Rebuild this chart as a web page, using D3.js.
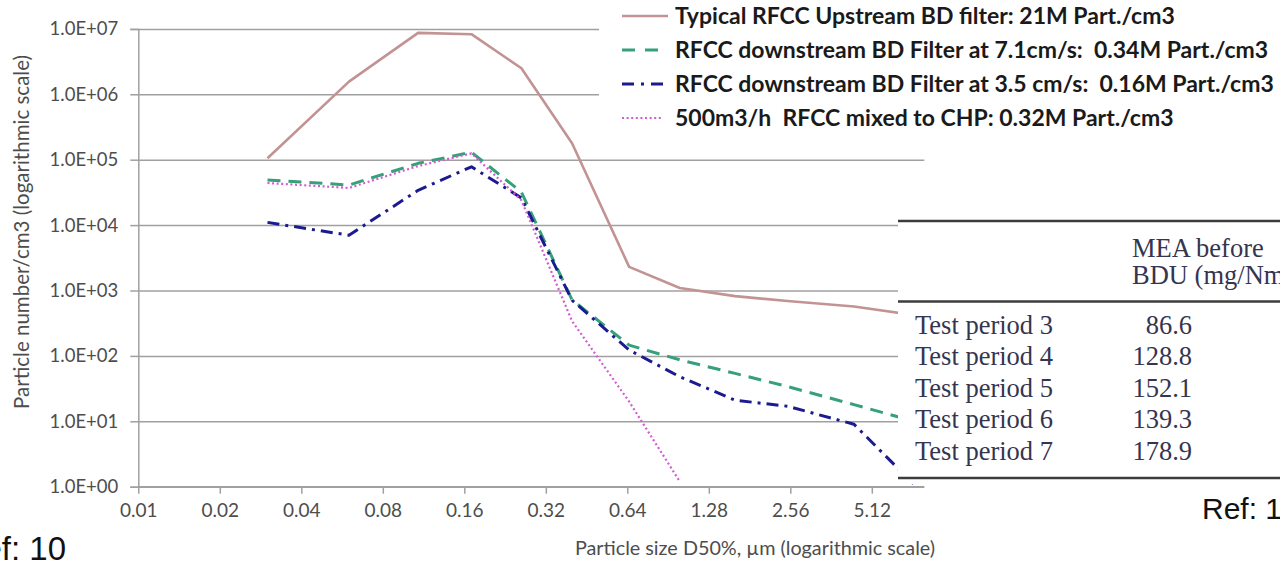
<!DOCTYPE html>
<html>
<head>
<meta charset="utf-8">
<script src="https://cdn.jsdelivr.net/npm/d3@7"></script>
<style>
  html, body { margin: 0; padding: 0; background: #fff; overflow: hidden; }
  svg { display: block; }
  text { white-space: pre; }
</style>
</head>
<body>
<svg id="chart" width="1280" height="562"></svg>
<script>
// ELPI impactor stage cut sizes, D50% in µm
const sizes = [0.03, 0.06, 0.108, 0.17, 0.26, 0.40, 0.65, 1.0, 1.6, 2.5, 4.4, 10];

// Particle number concentrations, particles/cm3, one value per stage
const upstream = [1.05e5, 1.56e6, 8.7e6, 8.3e6, 2.5e6, 1.78e5, 2300, 1090, 820, 690, 570, 350];
const downstream71 = [4.9e4, 4.1e4, 8.8e4, 1.3e5, 3.2e4, 720, 146, 87, 54, 34, 18, 7];
const downstream35 = [1.1e4, 7.0e3, 3.4e4, 7.8e4, 2.6e4, 710, 123, 48, 21, 17, 9, 0.3];
const mixedCHP = [4.4e4, 3.7e4, 8.0e4, 1.25e5, 2.4e4, 340, 20, 1.2];

const seriesNames = [
  "Typical RFCC Upstream BD filter: 21M Part./cm3",
  "RFCC downstream BD Filter at 7.1cm/s:  0.34M Part./cm3",
  "RFCC downstream BD Filter at 3.5 cm/s:  0.16M Part./cm3",
  "500m3/h  RFCC mixed to CHP: 0.32M Part./cm3"
];

const xTickValues = [0.01, 0.02, 0.04, 0.08, 0.16, 0.32, 0.64, 1.28, 2.56, 5.12];
const xTickLabels = ["0.01", "0.02", "0.04", "0.08", "0.16", "0.32", "0.64", "1.28", "2.56", "5.12"];
const yTickValues = [1, 10, 100, 1e3, 1e4, 1e5, 1e6, 1e7];
const yTickLabels = ["1.0E+00", "1.0E+01", "1.0E+02", "1.0E+03", "1.0E+04", "1.0E+05", "1.0E+06", "1.0E+07"];

// MEA table
const tablePeriods = ["Test period 3", "Test period 4", "Test period 5", "Test period 6", "Test period 7"];
const tableMEA = ["86.6", "128.8", "152.1", "139.3", "178.9"];
const tableHeader = ["MEA before", "BDU (mg/Nm3)"];

// ---- layout ----
const svg = d3.select("#chart");
const plot = { left: 138.3, right: 924.3, top: 28.9, bottom: 486.7 };
const chartFont = "Lato, 'Open Sans', sans-serif";
const tickColor = "#4d4d4d";
const gridColor = "#a0a0a0";

const x = d3.scaleLog().base(2).domain([0.01, 8]).range([plot.left, plot.right]);
const y = d3.scaleLog().domain([1, 1e7]).range([plot.bottom, plot.top]);

svg.append("rect").attr("width", 1280).attr("height", 562).attr("fill", "#fff");

// horizontal gridlines
const grid = svg.append("g")
  .attr("transform", `translate(${plot.left},0)`)
  .call(d3.axisLeft(y).tickValues(yTickValues).tickSize(-(plot.right - plot.left)).tickFormat(""));
grid.select(".domain").remove();
grid.selectAll(".tick line").attr("stroke", gridColor).attr("stroke-width", 1.5);

// y axis with outer ticks and labels
const yAxis = svg.append("g")
  .attr("transform", `translate(${plot.left},0)`)
  .call(d3.axisLeft(y).tickValues(yTickValues).tickSize(8).tickPadding(12)
    .tickFormat((d, i) => yTickLabels[i]));
yAxis.select(".domain").attr("stroke", gridColor).attr("stroke-width", 1.5);
yAxis.selectAll(".tick line").attr("stroke", gridColor).attr("stroke-width", 1.5);
yAxis.selectAll(".tick text")
  .attr("fill", tickColor).style("font-family", chartFont).style("font-size", "18.5px");

// x axis
const xAxis = svg.append("g")
  .attr("transform", `translate(0,${plot.bottom})`)
  .call(d3.axisBottom(x).tickValues(xTickValues).tickSize(7).tickPadding(10)
    .tickFormat((d, i) => xTickLabels[i]));
xAxis.select(".domain").attr("stroke", gridColor).attr("stroke-width", 1.5)
  .attr("d", `M${plot.left},0H${plot.right}`);
xAxis.selectAll(".tick line").attr("stroke", gridColor).attr("stroke-width", 1.5);
xAxis.selectAll(".tick text")
  .attr("fill", tickColor).style("font-family", chartFont).style("font-size", "19px");

// axis titles
svg.append("text")
  .attr("transform", `translate(21,232) rotate(-90)`)
  .attr("text-anchor", "middle").attr("dominant-baseline", "central")
  .attr("fill", tickColor).style("font-family", chartFont).style("font-size", "20.5px")
  .text("Particle number/cm3 (logarithmic scale)");

svg.append("text")
  .attr("x", 755).attr("y", 555)
  .attr("text-anchor", "middle")
  .attr("fill", tickColor).style("font-family", chartFont).style("font-size", "19.8px")
  .text("Particle size D50%, µm (logarithmic scale)");

// ---- series ----
svg.append("clipPath").attr("id", "plot-clip")
  .append("rect").attr("x", plot.left).attr("y", plot.top - 10)
  .attr("width", plot.right - plot.left).attr("height", plot.bottom - plot.top + 10);

const styles = [
  { color: "#c39393", width: 2.6, dash: null },
  { color: "#35a07a", width: 3, dash: "13,8" },
  { color: "#1b1b8f", width: 3, dash: "12,6,3,6" },
  { color: "#d25ad2", width: 2.2, dash: "2,2.6" }
];
const seriesValues = [upstream, downstream71, downstream35, mixedCHP];

const line = d3.line().x(d => x(d[0])).y(d => y(d[1]));
const seriesG = svg.append("g").attr("clip-path", "url(#plot-clip)");
seriesValues.forEach((vals, i) => {
  const pts = vals.map((v, j) => [sizes[j], v]);
  seriesG.append("path")
    .attr("d", line(pts))
    .attr("fill", "none")
    .attr("stroke", styles[i].color)
    .attr("stroke-width", styles[i].width)
    .attr("stroke-linejoin", "round")
    .attr("stroke-dasharray", styles[i].dash);
});

// ---- legend ----
const legend = svg.append("g");
legend.append("rect").attr("x", 599).attr("y", 0).attr("width", 681).attr("height", 140).attr("fill", "#fff");
const legendRows = [16, 50, 84, 118];
const legendDash = [null, "13,10", "12,7,3,7,12", "2,2.6"];
const legendEnd = [668, 660, 668, 663];
seriesNames.forEach((name, i) => {
  legend.append("line")
    .attr("x1", 622).attr("x2", legendEnd[i])
    .attr("y1", legendRows[i]).attr("y2", legendRows[i])
    .attr("stroke", styles[i].color).attr("stroke-width", styles[i].width)
    .attr("stroke-dasharray", legendDash[i]);
  legend.append("text")
    .attr("x", 675).attr("y", legendRows[i] + 8)
    .attr("xml:space", "preserve")
    .attr("fill", "#1a1a1a").style("font-family", chartFont)
    .style("font-weight", 700).style("font-size", "23px")
    .text(name);
});

// ---- MEA table ----
const table = svg.append("g");
const tableFont = "'Liberation Serif', 'Times New Roman', serif";
const tableInk = "#35354f";
const tableSize = "26.5px";
table.append("rect").attr("x", 898).attr("y", 205).attr("width", 382).attr("height", 279).attr("fill", "#fff");
[221, 301.5, 478].forEach(ry => {
  table.append("line").attr("x1", 898).attr("x2", 1280).attr("y1", ry).attr("y2", ry)
    .attr("stroke", "#3c3c3c").attr("stroke-width", 2.6);
});
tableHeader.forEach((t, i) => {
  table.append("text").attr("x", 1132).attr("y", 257 + i * 26.5)
    .attr("fill", tableInk).style("font-family", tableFont).style("font-size", tableSize)
    .text(t);
});
tablePeriods.forEach((t, i) => {
  const by = 333.5 + i * 31.6;
  table.append("text").attr("x", 915).attr("y", by)
    .attr("fill", tableInk).style("font-family", tableFont).style("font-size", tableSize)
    .text(t);
  table.append("text").attr("x", 1192).attr("y", by).attr("text-anchor", "end")
    .attr("fill", tableInk).style("font-family", tableFont).style("font-size", tableSize)
    .text(tableMEA[i]);
});

// ---- reference notes ----
svg.append("text").attr("x", 66).attr("y", 560).attr("text-anchor", "end")
  .attr("fill", "#111").style("font-family", "'Liberation Sans', Arial, sans-serif").style("font-size", "33px")
  .text("Ref: 10");
svg.append("text").attr("x", 1202).attr("y", 519)
  .attr("fill", "#111").style("font-family", "'Liberation Sans', Arial, sans-serif").style("font-size", "30px")
  .text("Ref: 1");
</script>
</body>
</html>
